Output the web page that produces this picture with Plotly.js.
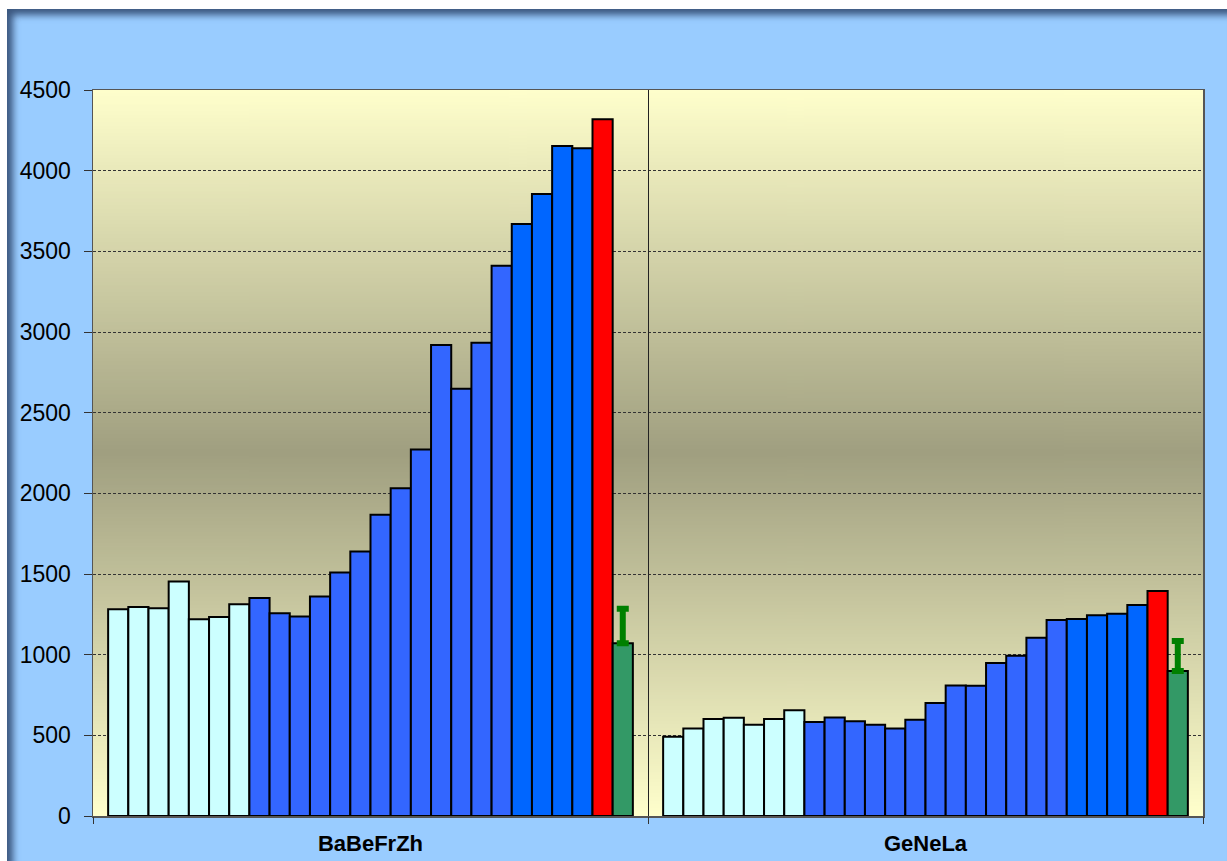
<!DOCTYPE html>
<html>
<head>
<meta charset="utf-8">
<script src="https://cdn.plot.ly/plotly-3.0.1.min.js"></script>
<style>
  html, body { margin: 0; padding: 0; background: #ffffff; width: 1227px; height: 861px; overflow: hidden; }
  #frame { position: absolute; left: 7px; top: 9px; width: 1220px; height: 852px; background: #99CCFF;
           box-shadow: inset 7px 7px 7px -1px rgba(30, 50, 85, 0.75); }
  #chart { position: absolute; left: 0; top: 0; width: 1227px; height: 861px; }
</style>
</head>
<body>
<div id="frame"></div>
<div id="chart"></div>
<script>
// ---- data ----
const categories = ['BaBeFrZh', 'GeNeLa'];

const babefrzhEarly = [1281, 1296, 1288, 1453, 1219, 1234, 1312];
const babefrzhMid   = [1352, 1256, 1236, 1360, 1509, 1640, 1867, 2031, 2271, 2919, 2648, 2934, 3410];
const babefrzhLate  = [3669, 3855, 4153, 4139];
const babefrzhPeak  = [4319];
const babefrzhMean  = [1070];
const babefrzhErr   = [215];

const genelaEarly = [491, 542, 602, 609, 565, 602, 656];
const genelaMid   = [582, 611, 588, 565, 542, 596, 700, 809, 807, 948, 994, 1105, 1215];
const genelaLate  = [1221, 1244, 1254, 1308];
const genelaPeak  = [1395];
const genelaMean  = [898];
const genelaErr   = [187];

const yTicks = [0, 500, 1000, 1500, 2000, 2500, 3000, 3500, 4000, 4500];

// ---- layout helpers ----
const groupSeries = [
  [babefrzhEarly, babefrzhMid, babefrzhLate, babefrzhPeak, babefrzhMean],
  [genelaEarly, genelaMid, genelaLate, genelaPeak, genelaMean]
];
const groupErr = [babefrzhErr, genelaErr];
const seriesColors = ['#CCFFFF', '#3366FF', '#0066FF', '#FF0000', '#339966'];

const perGroup = groupSeries[0].reduce((s, a) => s + a.length, 0); // 26 bars
const pad = 0.75;
const groupSpan = perGroup - 1 + 2 * (pad + 0.5);   // 27.5 units
const groupStart = g => g * groupSpan;               // first bar position

const traces = [];
for (let s = 0; s < seriesColors.length; s++) {
  const xs = [], ys = [];
  for (let g = 0; g < categories.length; g++) {
    let offset = 0;
    for (let k = 0; k < s; k++) offset += groupSeries[g][k].length;
    groupSeries[g][s].forEach((v, i) => { xs.push(groupStart(g) + offset + i); ys.push(v); });
  }
  const t = {
    type: 'bar', x: xs, y: ys, width: 1,
    marker: { color: seriesColors[s], line: { color: '#000000', width: 2 } },
    hoverinfo: 'y', showlegend: false
  };
  if (s === seriesColors.length - 1) {
    t.error_y = {
      type: 'data', symmetric: false,
      array: groupErr.map(e => e[0]), arrayminus: groupErr.map(() => 0),
      color: '#008000', thickness: 6, width: 6
    };
  }
  traces.push(t);
}
// helper trace for the boundary axis
traces.push({ type: 'scatter', x: [], y: [], xaxis: 'x2', showlegend: false, hoverinfo: 'skip' });

const xMin = -(pad + 0.5);
const xMax = xMin + groupSpan * categories.length;
const centers = categories.map((c, g) => xMin + groupSpan * (g + 0.5));
const bounds = [];
for (let g = 0; g <= categories.length; g++) bounds.push(xMin + groupSpan * g);

// gradient plot background (drawn as image)
const cv = document.createElement('canvas');
cv.width = 4; cv.height = 400;
const ctx = cv.getContext('2d');
const gr = ctx.createLinearGradient(0, 0, 0, 400);
gr.addColorStop(0, '#FFFFCC');
gr.addColorStop(0.5, '#A09F80');
gr.addColorStop(1, '#FFFFCC');
ctx.fillStyle = gr; ctx.fillRect(0, 0, 4, 400);

const fontFam = '"Liberation Sans", Arial, sans-serif';

const layout = {
  width: 1227, height: 861,
  margin: { l: 93, r: 24, t: 90, b: 45, pad: 0 },
  paper_bgcolor: 'rgba(0,0,0,0)',
  plot_bgcolor: 'rgba(0,0,0,0)',
  barmode: 'overlay',
  showlegend: false,
  font: { family: fontFam, color: '#000000' },
  images: [{
    source: cv.toDataURL(), xref: 'paper', yref: 'paper',
    x: 0, y: 1, sizex: 1, sizey: 1, sizing: 'stretch', layer: 'below',
    xanchor: 'left', yanchor: 'top'
  }],
  xaxis: {
    range: [xMin, xMax], tickmode: 'array', tickvals: centers, ticktext: categories,
    ticks: '', showgrid: false, zeroline: false,
    showline: true, linecolor: '#555555', linewidth: 1.5, mirror: true,
    tickfont: { family: fontFam, size: 22, weight: 'bold', color: '#000000' },
    ticklabelstandoff: 7
  },
  xaxis2: {
    overlaying: 'x', anchor: 'y', side: 'bottom', range: [xMin, xMax],
    tickmode: 'array', tickvals: bounds, showticklabels: false,
    ticks: 'outside', ticklen: 7, tickcolor: '#333333', tickwidth: 1,
    showgrid: true, gridcolor: '#222222', gridwidth: 1, zeroline: false, showline: false
  },
  yaxis: {
    range: [0, 4500], tickmode: 'array', tickvals: yTicks, ticktext: yTicks.map(String),
    ticks: 'outside', ticklen: 8, tickcolor: '#333333', tickwidth: 1,
    showgrid: true, gridcolor: '#333333', gridwidth: 1, griddash: '3px,2px',
    zeroline: false, showline: true, linecolor: '#555555', linewidth: 1.5, mirror: true,
    tickfont: { family: fontFam, size: 23, color: '#000000' },
    ticklabelstandoff: 8
  }
};

Plotly.newPlot('chart', traces, layout, { displayModeBar: false, staticPlot: true });
</script>
</body>
</html>
